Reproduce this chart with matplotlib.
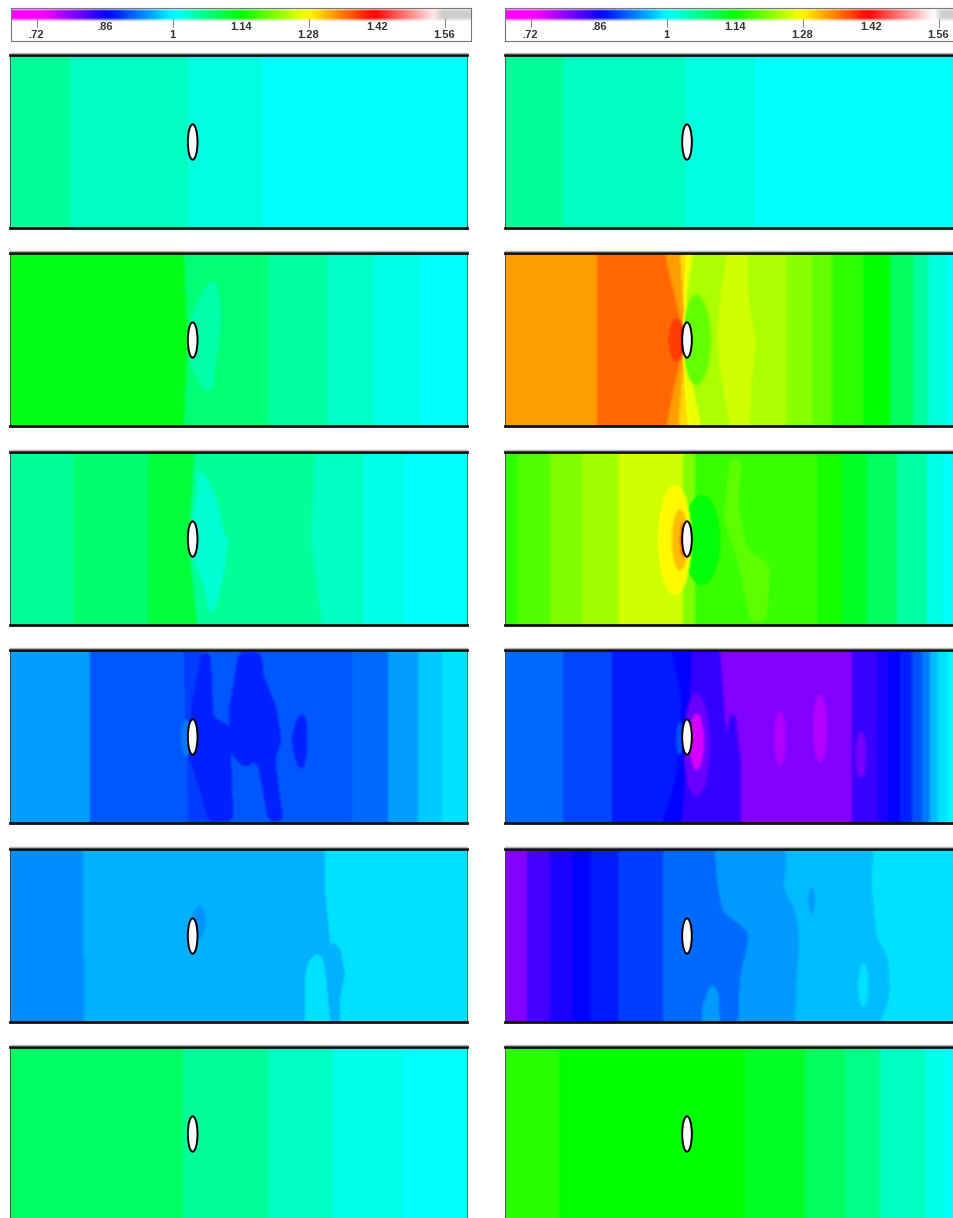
import numpy as np
import matplotlib
matplotlib.use("Agg")
import matplotlib.pyplot as plt
from matplotlib.colors import LinearSegmentedColormap
from matplotlib.lines import Line2D
from matplotlib.patches import Ellipse
from matplotlib.path import Path

W, H = 954, 1218
plt.rcParams['font.family'] = ['Liberation Sans', 'DejaVu Sans']

# colour scale
TICK_VALUES = [0.72, 0.86, 1.00, 1.14, 1.28, 1.42, 1.56]
TICK_LABELS = ['.72', '.86', '1', '1.14', '1.28', '1.42', '1.56']
SCALE_COLORS = ['#ff00ff', '#0000ff', '#00ffff', '#00ff00', '#ffff00', '#ff0000', '#ffffff']

# Every panel: band values left to right, boundaries between them, local features.
# A boundary is a position or a list of (height, position) readings.
L1_VALUES = [1.055, 1.035, 1.018, 1.000]
L1_EDGES = [210, 565, 785]
L1_SPOTS = []

R1_VALUES = [1.055, 1.035, 1.018, 1.000]
R1_EDGES = [190, 555, 765]
R1_SPOTS = []

L2_VALUES = [1.130, 1.075, 1.052, 1.030, 1.015, 1.000]
L2_EDGES = [[(24, 552), (285, 562), (543, 552)], 805, 985, 1122, 1260]
L2_SPOTS = [(1.045, [(585, 190), (620, 120), (650, 100), (665, 210), (650, 340), (635, 450), (600, 420), (570, 350), (570, 230)])]

R2_VALUES = [1.332, 1.360, 1.332, 1.300, 1.270, 1.233, 1.252, 1.233, 1.215, 1.195, 1.166, 1.140, 1.090, 1.052, 1.020, 1.000]
R2_EDGES = [290,
            [(30, 495), (157, 525), (285, 555), (412, 525), (540, 500)],
            [(30, 540), (157, 548), (285, 558), (412, 545), (540, 535)],
            [(30, 560), (157, 552), (285, 560), (412, 555), (540, 565)],
            [(30, 580), (157, 560), (285, 562), (412, 575), (540, 605)],
            [(30, 680), (157, 660), (285, 650), (412, 665), (540, 690)],
            [(30, 745), (157, 745), (285, 770), (412, 755), (540, 750)],
            860, 935, 995, 1090, 1170, 1240, 1285, 1340]
R2_SPOTS = [(1.195, 590, 285, 85, 270), (1.385, 530, 285, 50, 130), (1.420, 549, 285, 12, 90)]

L3_VALUES = [1.055, 1.080, 1.110, 1.055, 1.035, 1.015, 1.000]
L3_EDGES = [218, 445,
            [(21, 585), (285, 565), (537, 592)],
            [(21, 945), (285, 932), (537, 965)],
            1090, 1215]
L3_SPOTS = [(1.025, [(590, 60), (620, 100), (650, 160), (665, 240), (685, 290), (670, 390), (650, 480), (635, 530), (605, 400), (575, 330), (575, 230), (590, 150)])]

R3_VALUES = [1.166, 1.185, 1.210, 1.228, 1.252, 1.210, 1.170, 1.150, 1.120, 1.090, 1.050, 1.015, 1.000]
R3_EDGES = [55, 150, 245, 355, 550, 585, 950, 1025, 1100, 1190, 1280, 1330]
R3_SPOTS = [(1.190, [(690, 40), (725, 40), (715, 180), (740, 310), (810, 360), (800, 530), (750, 530), (710, 340), (670, 220)]),
            (1.135, 605, 285, 110, 270),
            (1.282, 525, 285, 100, 330), (1.315, 540, 285, 50, 180), (1.380, 550, 285, 18, 100)]

L4_VALUES = [0.948, 0.909, 0.895, 0.909, 0.920, 0.948, 0.970, 0.985]
L4_EDGES = [270, [(15, 550), (534, 565)], [(15, 605), (200, 640), (534, 640)], 1055, 1165, 1255, 1325]
L4_SPOTS = [(0.878, [(605, 20), (632, 20), (640, 220), (690, 240), (700, 530), (625, 530), (600, 440), (565, 330), (575, 180)]),
            (0.880, [(715, 20), (785, 20), (790, 90), (830, 190), (845, 290), (825, 340), (850, 530), (805, 530), (770, 340), (740, 370), (710, 350), (690, 320), (685, 200), (700, 120)]),
            (0.880, [(905, 185), (920, 230), (920, 330), (905, 400), (880, 320), (875, 270)]),
            (0.930, 558, 280, 30, 110)]

R4_VALUES = [0.920, 0.900, 0.875, 0.860, 0.832, 0.790, 0.830, 0.845, 0.860, 0.880, 0.905, 0.930, 0.965, 0.985, 1.000]
R4_EDGES = [190, 335,
            [(15, 515), (150, 545), (280, 540), (400, 530), (534, 485)],
            [(15, 575), (280, 565), (534, 545)],
            [(15, 660), (280, 680), (534, 720)],
            1055, 1130, 1165, 1200, 1235, 1265, 1290, 1315, 1345]
R4_SPOTS = [(0.832, [(700, 150), (722, 350), (722, 534), (630, 534), (620, 330), (680, 270)]),
            (0.805, 590, 300, 80, 310), (0.745, 590, 290, 45, 170),
            (0.765, 960, 250, 45, 205), (0.765, 840, 280, 35, 165), (0.795, 1083, 330, 32, 140),
            (0.905, 540, 280, 25, 100)]

L5_VALUES = [0.939, 0.958, 0.985]
L5_EDGES = [[(21, 248), (540, 252)], [(21, 975), (150, 975), (285, 990), (540, 990)]]
L5_SPOTS = [(0.958, [(985, 300), (1020, 310), (1035, 400), (1020, 470), (1020, 540), (990, 540), (985, 450), (970, 340)]),
            (0.985, [(915, 540), (915, 400), (930, 345), (965, 330), (980, 420), (990, 540)]),
            (0.942, 597, 240, 40, 100)]

R5_VALUES = [0.790, 0.825, 0.845, 0.860, 0.875, 0.895, 0.920, 0.945, 0.965, 0.985]
R5_EDGES = [80, 150, 215, 270, 355, 490,
            [(21, 645), (110, 650), (200, 665), (232, 675), (245, 740), (300, 745), (400, 720), (540, 715)],
            [(21, 855), (60, 860), (150, 850), (180, 880), (290, 900), (400, 890), (540, 885)],
            [(21, 1120), (130, 1115), (290, 1130), (340, 1165), (470, 1170), (540, 1140)]]
R5_SPOTS = [(0.945, [(605, 500), (635, 415), (655, 450), (660, 540), (605, 540)]),
            (0.945, 935, 175, 20, 80), (0.985, 1090, 430, 30, 130)]

L6_VALUES = [1.087, 1.055, 1.035, 1.015, 1.000]
L6_EDGES = [548, 803, 995, 1205]
L6_SPOTS = []

R6_VALUES = [1.162, 1.140, 1.118, 1.090, 1.065, 1.035, 1.015, 1.000]
R6_EDGES = [180, 735, 915, 1035, 1140, 1275, 1335]
R6_SPOTS = []

LEFT = [(L1_VALUES, L1_EDGES, L1_SPOTS), (L2_VALUES, L2_EDGES, L2_SPOTS), (L3_VALUES, L3_EDGES, L3_SPOTS),
        (L4_VALUES, L4_EDGES, L4_SPOTS), (L5_VALUES, L5_EDGES, L5_SPOTS), (L6_VALUES, L6_EDGES, L6_SPOTS)]
RIGHT = [(R1_VALUES, R1_EDGES, R1_SPOTS), (R2_VALUES, R2_EDGES, R2_SPOTS), (R3_VALUES, R3_EDGES, R3_SPOTS),
         (R4_VALUES, R4_EDGES, R4_SPOTS), (R5_VALUES, R5_EDGES, R5_SPOTS), (R6_VALUES, R6_EDGES, R6_SPOTS)]

ROW_TOP_PX = [55, 253, 452, 650, 849, 1047]
ROW_ORIGIN = [24, 24, 21, 15, 21, 21]
PANEL_H = 173

cmap = LinearSegmentedColormap.from_list(
    'scale', [((v - TICK_VALUES[0]) / (TICK_VALUES[-1] - TICK_VALUES[0]), c)
              for v, c in zip(TICK_VALUES, SCALE_COLORS)])
cmap.set_under('#ff00ff')
cmap.set_over('#cfcfcf')


def add_axes_px(x0, y0, x1, y1):
    return fig.add_axes([x0 / W, 1 - y1 / H, (x1 - x0) / W, (y1 - y0) / H])


def smooth(a, kernel, axis):
    half = len(kernel) // 2
    return np.apply_along_axis(lambda r: np.convolve(np.pad(r, half, mode='edge'), kernel, 'valid'), axis, a)


def build_field(values, edges, spots, xs, ys):
    X, Y = np.meshgrid(xs, ys)
    field = np.full(X.shape, values[0], dtype=float)
    round_b = np.ones(21) / 21.0
    round_m = np.ones(11) / 11.0
    for val, edge in zip(values[1:], edges):
        if isinstance(edge, list):
            b = np.interp(ys, [p[0] for p in edge], [p[1] for p in edge])
            b = np.convolve(np.pad(b, 10, mode='edge'), round_b, 'valid')
        else:
            b = np.full(ys.shape, float(edge))
        field[X >= b[:, None]] = val
    pts = np.column_stack([X.ravel(), Y.ravel()])
    for spot in spots:
        if len(spot) == 2:
            m = Path(spot[1]).contains_points(pts).reshape(X.shape).astype(float)
            mask = smooth(smooth(m, round_m, 1), round_m, 0) > 0.5
        else:
            _, cx, cy, w, h = spot
            mask = ((X - cx) / (w / 2)) ** 2 + ((Y - cy) / (h / 2)) ** 2 <= 1
        field[mask] = spot[0]
    # soften the hard band edges to the blur of the picture
    kernel = np.array([1, 2, 3, 2, 1]) / 9.0
    return smooth(smooth(field, kernel, 1), kernel, 0)


def draw_panel(px_left, px_right, row, unit_left, cyl_x, panel):
    values, edges, spots = panel
    top = ROW_TOP_PX[row]
    bottom = min(top + PANEL_H, H)
    ax = add_axes_px(px_left, top, px_right, bottom)
    origin = ROW_ORIGIN[row]
    x0, x1 = unit_left, unit_left + (px_right - px_left) * 3
    y0, y1 = origin, origin + (bottom - top) * 3
    xs = np.arange(x0 + 1.5, x1, 3.0)
    ys = np.arange(y0 + 1.5, y1, 3.0)
    field = build_field(values, edges, spots, xs, ys)
    ax.imshow(field, cmap=cmap, vmin=TICK_VALUES[0], vmax=TICK_VALUES[-1], extent=(x0, x1, y1, y0),
              aspect='auto', interpolation='bilinear')
    ax.add_patch(Ellipse((cyl_x, origin + 261), 29, 106, facecolor='white', edgecolor='black', linewidth=1.4, zorder=5))
    ax.set_xlim(x0, x1)
    ax.set_ylim(y1, y0)
    ax.set_xticks([])
    ax.set_yticks([])
    for s in ('left', 'right'):
        ax.spines[s].set_linewidth(0.6)
        ax.spines[s].set_color('#444444')
    ax.spines['top'].set_linewidth(2.0)
    ax.spines['top'].set_color('#111111')
    ax.spines['bottom'].set_linewidth(2.0)
    ax.spines['bottom'].set_color('#111111')
    if bottom == H:
        ax.spines['bottom'].set_visible(False)
    # pale halo over the wall
    halo_y = 1 - (top - 2.2) / H
    fig.add_artist(Line2D([px_left / W, px_right / W], [halo_y, halo_y], color='#b5b5b5', lw=1.0))


def draw_scale(px_left, px_right):
    ax = add_axes_px(px_left, 8, px_right, 41)
    per_px = (TICK_VALUES[-1] - TICK_VALUES[0]) / 408.0
    x0 = TICK_VALUES[0] - 26 * per_px
    x1 = x0 + (px_right - px_left) * per_px
    steps = np.linspace(x0, x1, 56)
    colors = cmap((steps - TICK_VALUES[0]) / (TICK_VALUES[-1] - TICK_VALUES[0]))
    fade = [0.15, 0.45, 0.85, 1, 1, 1, 1, 1, 1, 1, 0.85, 0.55, 0.25, 0.08]
    rows = np.repeat(colors[None, :, :], len(fade), axis=0)
    rows[:, :, 3] = np.array(fade)[:, None]
    ax.imshow(rows, extent=(x0, x1, 0.58, 1.0), aspect='auto', interpolation='bilinear', origin='upper')
    ax.set_xlim(x0, x1)
    ax.set_ylim(0, 1)
    ax.set_xticks([])
    ax.set_yticks([])
    for s in ax.spines.values():
        s.set_linewidth(0.8)
        s.set_color('#777777')
    for i, (v, lab) in enumerate(zip(TICK_VALUES, TICK_LABELS)):
        low = i % 2 == 0
        if low:
            ax.plot([v, v], [0.42, 0.68], color='#555555', lw=0.5)
        ax.text(v + per_px * (-1 if low else 0), 0.19 if low else 0.42, lab, ha='center', va='center',
                fontsize=8, fontweight='bold', color='#333333', clip_on=True)


fig = plt.figure(figsize=(W / 100, H / 100), dpi=100, facecolor='white')
draw_scale(11, 471)
draw_scale(505, 954)
for r in range(6):
    draw_panel(10, 467, r, 30, 578, LEFT[r])
    draw_panel(505, 954, r, 15, 561, RIGHT[r])
fig.savefig('out.png', dpi=100, facecolor='white')
